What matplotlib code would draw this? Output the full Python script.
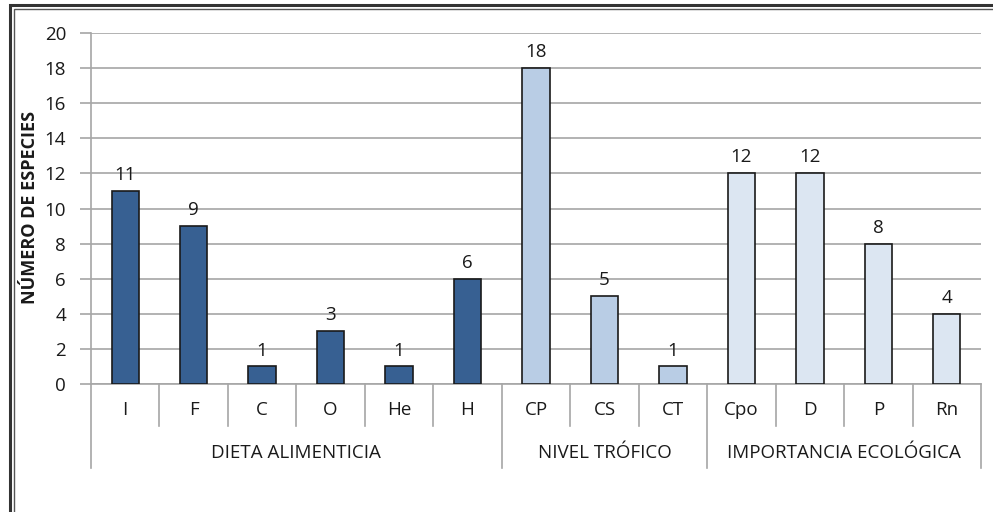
import matplotlib.pyplot as plt
from matplotlib.patches import Rectangle
from matplotlib.transforms import blended_transform_factory

plt.rcParams['font.family'] = ['Open Sans', 'DejaVu Sans']

categories = ['I', 'F', 'C', 'O', 'He', 'H', 'CP', 'CS', 'CT', 'Cpo', 'D', 'P', 'Rn']
values = [11, 9, 1, 3, 1, 6, 18, 5, 1, 12, 12, 8, 4]
groups = ['DIETA ALIMENTICIA', 'NIVEL TRÓFICO', 'IMPORTANCIA ECOLÓGICA']
group_sizes = [6, 3, 4]
group_colors = ['#376092', '#B9CDE5', '#DCE6F2']

W, H = 993, 512
FS = 13.5
fig = plt.figure(figsize=(W / 100, H / 100), dpi=100)
ax = fig.add_axes([91 / W, 1 - 384 / H, (981 - 91) / W, (384 - 33) / H])

colors = []
for c, n in zip(group_colors, group_sizes):
    colors += [c] * n
x = list(range(len(categories)))
ax.bar(x, values, width=0.4, color=colors, edgecolor='#1a1a1a', linewidth=1.2, zorder=3)
for xi, v in zip(x, values):
    ax.annotate(str(v), (xi, v), xytext=(0, 5), textcoords='offset points',
                ha='center', va='bottom', fontsize=FS, color='#1a1a1a')

ax.set_xlim(-0.5, len(categories) - 0.5)
ax.set_ylim(0, 20)
ax.set_yticks(range(0, 21, 2))
ax.yaxis.grid(True, color='#A6A6A6', linewidth=1.2, zorder=0)
ax.set_axisbelow(True)
for s in ['top', 'right']:
    ax.spines[s].set_visible(False)
ax.spines['left'].set_color('#A6A6A6')
ax.spines['bottom'].set_color('#A6A6A6')
ax.spines['left'].set_linewidth(1.2)
ax.spines['bottom'].set_linewidth(1.2)
ax.tick_params(axis='y', length=8, color='#A6A6A6', width=1.2, labelsize=FS, pad=10, labelcolor='#1a1a1a')
ax.set_xticks([])
fig.text(30 / W, 1 - 207 / H, 'NÚMERO DE ESPECIES', rotation=90, ha='center', va='center',
         fontsize=13, fontweight='bold', color='#1a1a1a')

tr = blended_transform_factory(ax.transData, ax.transAxes)
h = 351
y_cat = -26 / h
y_grp = -69 / h
y_in = -42 / h
y_out = -84 / h
for i, c in enumerate(categories):
    ax.text(i, y_cat, c, transform=tr, ha='center', va='center', fontsize=FS, color='#1a1a1a')
bounds = [-0.5]
for n in group_sizes:
    bounds.append(bounds[-1] + n)
for i in range(len(categories) + 1):
    b = i - 0.5
    low = y_out if b in bounds else y_in
    ax.plot([b, b], [0, low], transform=tr, color='#A6A6A6', lw=1.2, clip_on=False)
for g, a, b in zip(groups, bounds[:-1], bounds[1:]):
    ax.text((a + b) / 2, y_grp, g, transform=tr, ha='center', va='center', fontsize=FS, color='#1a1a1a')

# double frame around the chart
fig.patches.append(Rectangle((9.5 / W, -0.1), 1.2, 1 - 4.5 / H + 0.1, transform=fig.transFigure,
                             fill=False, edgecolor='#333333', lw=2.2))
fig.patches.append(Rectangle((13.5 / W, -0.1), 1.2, 1 - 8.5 / H + 0.1, transform=fig.transFigure,
                             fill=False, edgecolor='#555555', lw=1.0))

fig.savefig('out.png', dpi=100)
